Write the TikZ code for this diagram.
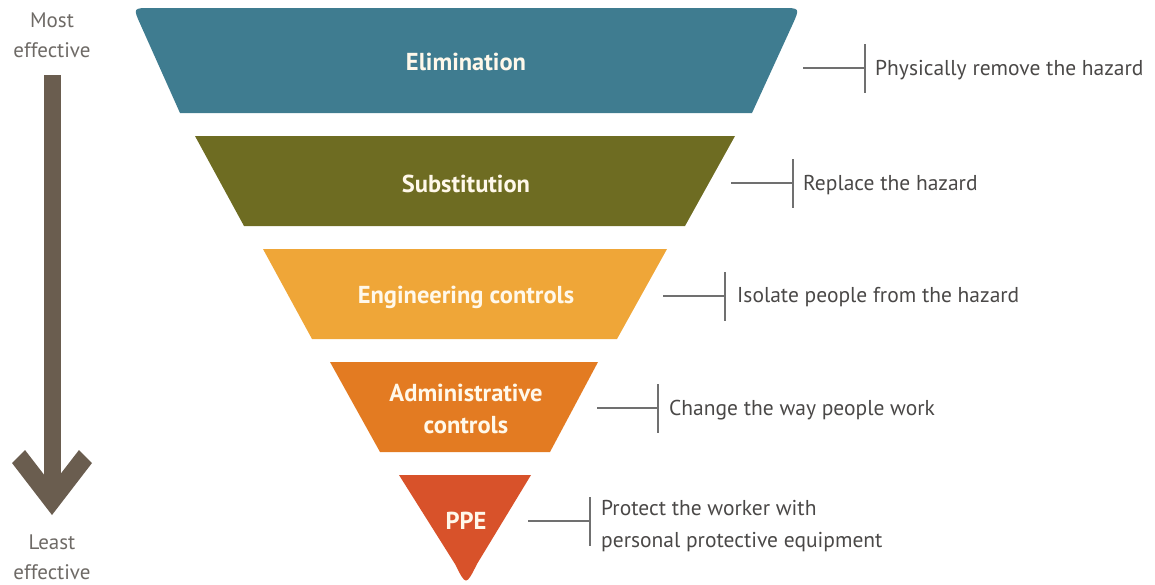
\documentclass[tikz,border=0pt]{standalone}
\usepackage{fontspec}
\setmainfont{PT Sans}
\definecolor{elim}{HTML}{3F7C90}
\definecolor{subst}{HTML}{6E6C22}
\definecolor{engc}{HTML}{EFA638}
\definecolor{admc}{HTML}{E37B22}
\definecolor{ppec}{HTML}{D8522A}
\definecolor{arrowc}{HTML}{6A5D4F}
\definecolor{sidegray}{HTML}{6E6A66}
\definecolor{txtgray}{HTML}{4A4847}
\definecolor{cream}{HTML}{FFF8EA}
\definecolor{linegray}{HTML}{707070}
\tikzset{
  lvltext/.style={text=cream, font=\fontsize{24.5}{32}\selectfont\bfseries, align=center},
  sidetext/.style={text=txtgray, font=\fontsize{21.5}{32}\selectfont, anchor=west, align=left, inner sep=0pt},
  efftext/.style={text=sidegray, font=\fontsize{21}{30}\selectfont, align=center},
  conn/.style={draw=linegray, line width=1.3pt},
}
\begin{document}
\begin{tikzpicture}[x=1pt,y=-1pt]
\useasboundingbox (0,0) rectangle (1155,584);
% levels
\fill[elim] (180,113) -- (140.5,24.6) .. controls (133,8) .. (151,8) -- (782,8) .. controls (800,8) .. (792.5,24.6) -- (752,113) -- cycle;
\fill[subst] (195,136) -- (735,136) -- (685,226) -- (244,226) -- cycle;
\fill[engc] (263,249) -- (667,249) -- (617,339) -- (312,339) -- cycle;
\fill[admc] (330,362) -- (598,362) -- (550,452) -- (380,452) -- cycle;
\fill[ppec] (399,475) -- (531,475) -- (477,564) .. controls (466,586) .. (455,564) -- cycle;
% labels in levels
\node[lvltext] (l1) at (466,62) {Elimination};
\node[lvltext] (l2) at (466,184) {Substitution};
\node[lvltext] (l3) at (466,297) {Engineering controls};
\node[lvltext] (l4) at (466,409) {Administrative\\controls};
\node[lvltext] (l5) at (466,521) {PPE};
% connector coordinates
\coordinate (e1) at (803,68);  \coordinate (t1) at (865,68);
\coordinate (e2) at (731,183); \coordinate (t2) at (793,183);
\coordinate (e3) at (663,296); \coordinate (t3) at (725,296);
\coordinate (e4) at (597,408); \coordinate (t4) at (658,408);
\coordinate (e5) at (528,521); \coordinate (t5) at (590,521);
\foreach \i in {1,...,5}{
  \draw[conn] (e\i) -- (t\i);
  \draw[conn] ([yshift=-24.5pt]t\i) -- ([yshift=24.5pt]t\i);
}
\node[sidetext] (s1) at (875,70) {Physically remove the hazard};
\node[sidetext] (s2) at (803,185) {Replace the hazard};
\node[sidetext] (s3) at (737,297) {Isolate people from the hazard};
\node[sidetext] (s4) at (669,410) {Change the way people work};
\node[sidetext] (s5) at (601,526) {Protect the worker with\\personal protective equipment};
% effectiveness arrow
\node[efftext] (most) at (52,35) {Most\\effective};
\node[efftext] (least) at (52,557) {Least\\effective};
\fill[arrowc] (43.5,75) rectangle (60.5,492);
\fill[arrowc] (12,463) -- (25,450) -- (52,485) -- (79,450) -- (92,463) -- (52,515) -- cycle;
\end{tikzpicture}
\end{document}
